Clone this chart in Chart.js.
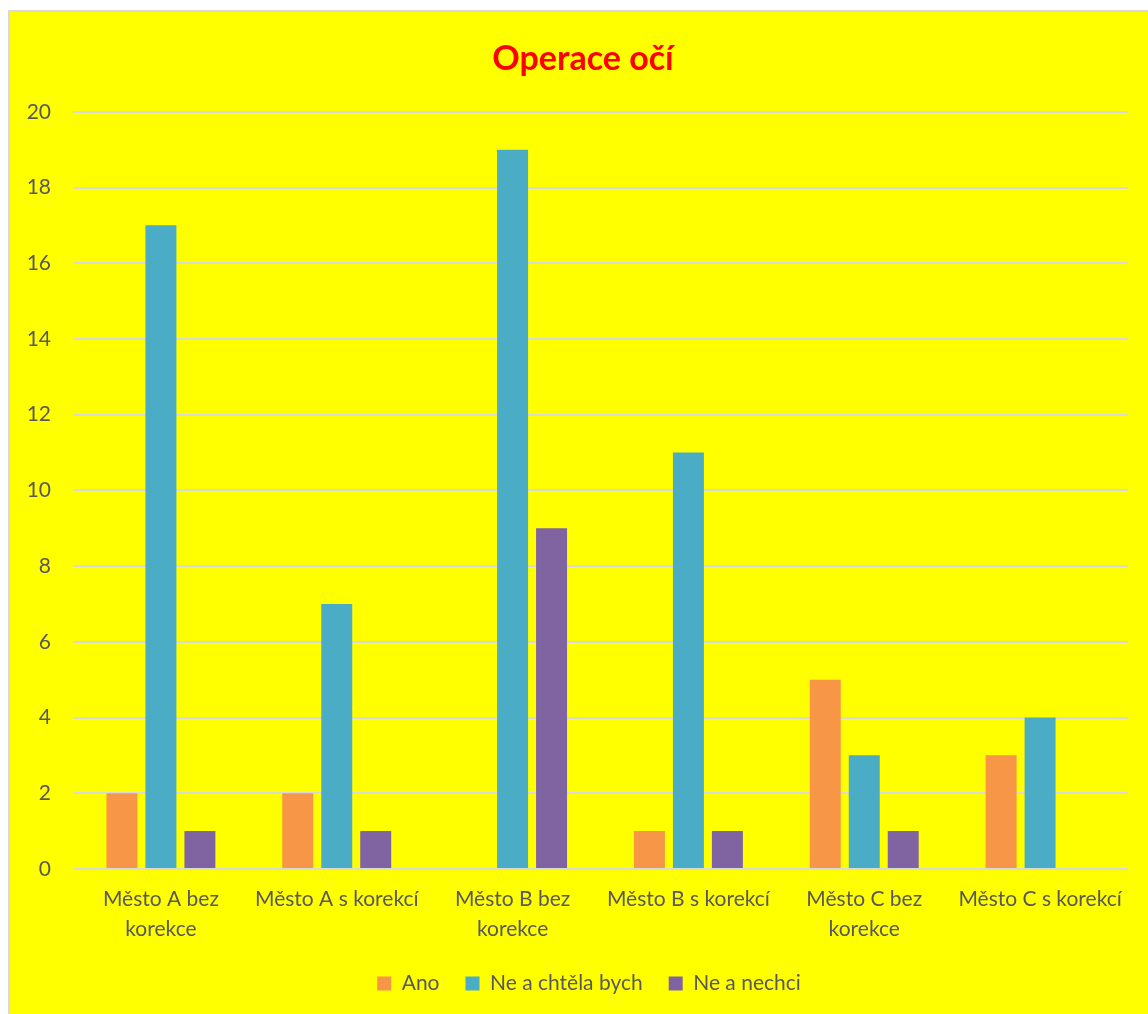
<!DOCTYPE html>
<html lang="cs">
<head>
  <meta charset="UTF-8" />
  <title>Operace očí</title>
  <style>
    body {
      margin: 0;
      background: #ffffff;
    }

    .chart-box {
      position: absolute;
      left: 8px;
      top: 10px;
      width: 1138px;
      height: 1002px;
      background: #ffff00;
      border-left: 2px solid #d9d9d9;
      border-top: 2px solid #d9d9d9;
    }

    canvas {
      display: block;
    }
  </style>
</head>
<body>

  <div class="chart-box">
    <canvas id="eyeChart" width="1138" height="1002"></canvas>
  </div>

  <script src="https://cdn.jsdelivr.net/npm/chart.js"></script>
  <script>
    // categories (two-line labels where the text wraps)
    const categories = [
      ['Město A bez', 'korekce'],
      'Město A s korekcí',
      ['Město B bez', 'korekce'],
      'Město B s korekcí',
      ['Město C bez', 'korekce'],
      'Město C s korekcí'
    ];

    const ano = [2, 2, 0, 1, 5, 3];
    const neChtelaBych = [17, 7, 19, 11, 3, 4];
    const neNechci = [1, 1, 9, 1, 1, 0];

    const yTicks = [0, 2, 4, 6, 8, 10, 12, 14, 16, 18, 20];

    const textColor = '#595959';
    const gridColor = '#d9d9d9';
    const fontFamily = "Lato, 'Open Sans', sans-serif";

    // nudge title and legend a little to the right so they sit over the middle of the box
    const centerShift = {
      id: 'centerShift',
      afterLayout(chart) {
        if (chart.titleBlock) chart.titleBlock.left += 28;
        if (chart.legend) chart.legend.left += 40;
      }
    };

    const ctx = document.getElementById('eyeChart').getContext('2d');

    new Chart(ctx, {
      type: 'bar',
      data: {
        labels: categories,
        datasets: [
          { label: 'Ano', data: ano, backgroundColor: '#f79646' },
          { label: 'Ne a chtěla bych', data: neChtelaBych, backgroundColor: '#4bacc6' },
          { label: 'Ne a nechci', data: neNechci, backgroundColor: '#8064a2' }
        ]
      },
      plugins: [centerShift],
      options: {
        responsive: false,
        animation: false,
        categoryPercentage: 0.665,
        barPercentage: 0.795,
        layout: {
          padding: { left: 0, right: 20, top: 10, bottom: 10 }
        },
        plugins: {
          title: {
            display: true,
            text: 'Operace očí',
            color: '#ff0000',
            font: { family: fontFamily, size: 34, weight: 'bold' },
            padding: { top: 17, bottom: 32 }
          },
          legend: {
            position: 'bottom',
            labels: {
              color: textColor,
              font: { family: fontFamily, size: 21 },
              boxWidth: 14,
              boxHeight: 14,
              padding: 26
            }
          },
          tooltip: { enabled: false }
        },
        scales: {
          x: {
            grid: { display: false, drawTicks: false },
            border: { display: false },
            afterFit: axis => {
              // let the legend sit a bit closer to the wrapped labels
              axis.height -= 12;
            },
            ticks: {
              color: textColor,
              font: { family: fontFamily, size: 21, lineHeight: 1.43 },
              padding: 15,
              maxRotation: 0,
              autoSkip: false
            }
          },
          y: {
            min: 0,
            max: 20,
            afterBuildTicks: axis => {
              axis.ticks = yTicks.map(v => ({ value: v }));
            },
            afterFit: axis => {
              axis.width = 63;
            },
            grid: { color: gridColor, lineWidth: 2, drawTicks: false },
            border: { display: false },
            ticks: {
              color: textColor,
              font: { family: fontFamily, size: 21 },
              padding: 22
            }
          }
        }
      }
    });
  </script>

</body>
</html>
